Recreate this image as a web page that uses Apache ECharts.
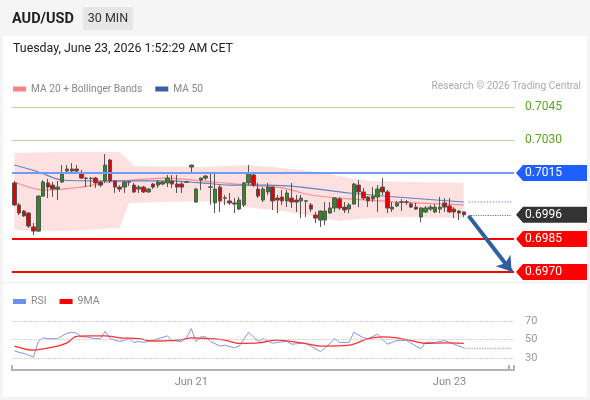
<!DOCTYPE html>
<html><head><meta charset="utf-8">
<script src="https://cdn.jsdelivr.net/npm/echarts@6/dist/echarts.min.js"></script>
<style>html,body{margin:0;padding:0;background:#fff}#c{width:590px;height:400px}</style>
</head><body><div id="c"></div>
<script>
// ---- data ----
const opens = [0.70105,0.70005,0.69977,0.69968,0.69905,0.69886,0.70045,0.70105,0.70095,0.70077,
0.70109,0.70159,0.70168,0.70168,0.70145,0.70127,0.70126,0.70127,0.70109,0.70114,
0.70209,0.70114,0.70086,0.70086,0.70110,0.70095,0.70077,0.70086,0.70064,0.70100,
0.70095,0.70100,0.70105,0.70114,0.70100,0.70100,0.70110,0.70177,0.70018,0.70118,
0.70127,0.70087,0.70014,0.70086,0.70037,0.70023,0.70014,0.69986,0.70005,0.70105,
0.70141,0.70077,0.70027,0.70064,0.70086,0.70036,0.70041,0.70023,0.70036,0.70027,
0.70023,0.70024,0.70005,0.69959,0.69936,0.69936,0.69968,0.69991,0.70032,0.69995,
0.69986,0.70009,0.70095,0.70064,0.70041,0.70032,0.70041,0.70086,0.70064,0.69986,
0.70000,0.70019,0.70019,0.70009,0.69995,0.69950,0.69973,0.69986,0.69973,0.69986,
0.70014,0.70000,0.69986,0.69977,0.69973];
const closes = [0.70005,0.69968,0.69955,0.69909,0.69886,0.70045,0.70109,0.70086,0.70077,0.70086,
0.70150,0.70168,0.70159,0.70159,0.70127,0.70125,0.70125,0.70105,0.70095,0.70186,
0.70114,0.70086,0.70077,0.70109,0.70108,0.70064,0.70086,0.70064,0.70077,0.70086,
0.70109,0.70109,0.70127,0.70100,0.70086,0.70086,0.70108,0.70186,0.70077,0.70127,
0.70136,0.70085,0.70077,0.70023,0.70035,0.70014,0.70009,0.70027,0.70105,0.70150,
0.70095,0.70045,0.70077,0.70086,0.70023,0.70027,0.70023,0.70059,0.70018,0.70018,
0.70036,0.70022,0.69986,0.69945,0.69977,0.69977,0.69991,0.70036,0.69991,0.69982,
0.70005,0.70100,0.70064,0.70036,0.70023,0.70045,0.70077,0.70064,0.69991,0.69995,
0.70014,0.70017,0.70017,0.69995,0.69986,0.69991,0.69991,0.69995,0.69995,0.69995,
0.69995,0.69973,0.69973,0.69968,0.69960];
const lows = [0.70000,0.69959,0.69950,0.69900,0.69868,0.69882,0.70041,0.70036,0.70041,0.70027,
0.70105,0.70150,0.70145,0.70150,0.70123,0.70086,0.70086,0.70082,0.70086,0.70105,
0.70105,0.70059,0.70064,0.70059,0.70091,0.70059,0.70059,0.70059,0.70059,0.70077,
0.70082,0.70095,0.70086,0.70082,0.70059,0.70059,0.70105,0.70150,0.70014,0.70073,
0.70118,0.70005,0.69968,0.69973,0.70005,0.70005,0.69968,0.69982,0.69995,0.70095,
0.70086,0.70036,0.70018,0.70050,0.69982,0.69968,0.70005,0.69995,0.69991,0.69973,
0.69945,0.69950,0.69973,0.69923,0.69905,0.69914,0.69966,0.69973,0.69982,0.69968,
0.69968,0.70005,0.69995,0.70027,0.69995,0.70018,0.69973,0.70050,0.69968,0.69973,
0.69995,0.69977,0.70005,0.69991,0.69982,0.69927,0.69968,0.69977,0.69968,0.69968,
0.69973,0.69968,0.69945,0.69936,0.69950];
const highs = [0.70114,0.70014,0.69982,0.69973,0.69923,0.70050,0.70118,0.70123,0.70109,0.70114,
0.70186,0.70186,0.70195,0.70186,0.70164,0.70132,0.70132,0.70132,0.70114,0.70236,
0.70214,0.70116,0.70095,0.70114,0.70114,0.70105,0.70095,0.70091,0.70082,0.70105,
0.70118,0.70114,0.70141,0.70141,0.70141,0.70109,0.70111,0.70188,0.70082,0.70128,
0.70141,0.70155,0.70155,0.70095,0.70050,0.70059,0.70036,0.70041,0.70109,0.70186,
0.70155,0.70105,0.70086,0.70105,0.70088,0.70050,0.70073,0.70073,0.70105,0.70050,
0.70050,0.70027,0.70014,0.69973,0.69980,0.70018,0.70018,0.70041,0.70041,0.70018,
0.70014,0.70105,0.70118,0.70082,0.70045,0.70086,0.70095,0.70127,0.70073,0.70018,
0.70023,0.70032,0.70027,0.70018,0.70014,0.69995,0.70000,0.70005,0.70009,0.70041,
0.70036,0.70036,0.69995,0.69982,0.69975];

const ma50Idx = [0,5,10,18,32,39,45,53,60,70,80,94];
const ma50Val = [0.70186,0.70155,0.70118,0.70114,0.70114,0.70105,0.70095,0.70095,0.70086,0.70059,0.70041,0.70018];
const ma20Idx = [0,6,14,20,25,32,39,49,56,62,70,80,94];
const ma20Val = [0.70109,0.70073,0.70086,0.70109,0.70118,0.70127,0.70114,0.70095,0.70082,0.70050,0.70032,0.70018,0.70005];
const bbUpIdx = [0,9,22,23,25,39,49,54,60,65,70,74,94];
const bbUpVal = [0.70241,0.70245,0.70245,0.70227,0.70182,0.70177,0.70186,0.70177,0.70164,0.70150,0.70127,0.70114,0.70105];
const bbLoIdx = [0,10,22,24,39,45,50,56,62,68,72,80,94];
const bbLoVal = [0.69891,0.69886,0.69900,0.70014,0.70023,0.70009,0.69991,0.69977,0.69955,0.69932,0.69941,0.69950,0.69945];

const rsiIdx = [0,1,2,4,5,6,7,9,11,12,13,14,15,17,18,19,20,22,23,24,25,26,27,28,30,32,33,35,36,37,38,39,40,41,43,44,46,47,49,51,52,54,55,57,58,60,61,62,64,65,67,68,70,71,73,74,76,78,80,82,83,85,86,88,90,92,94];
const rsiVal = [38,36,35,31,48,52,51,51,57,58,57,53,53,51,51,59,51,48,49,51,47,48,47,48,51,54,49,48,52,62,48,53,53,48,43,44,41,43,58,48,51,46,47,48,45,46,46,43,37,41,51,47,47,58,52,51,56,45,49,49,46,40,47,47,49,45,41];
const ma9Idx = [0,4,6,9,11,13,16,19,22,26,29,33,35,37,41,44,47,51,55,60,64,70,74,77,80,83,86,90,94];
const ma9Val = [43,38.5,40,43,46.5,53.5,54,54,52,51,48.5,49,50,52,51,49.5,46,46.5,49.5,46.5,43,44,51,53,52,49,46,46.5,46];

const levelPrices = [0.7045, 0.7030, 0.7015, 0.6985, 0.6970];
const levelColors = ['#b4d898', '#b4d898', '#6f9cf2', '#ff0000', '#ff0000'];
const levelWidths = [1.2, 1.2, 2, 2, 2];
const lastPrice = 0.6996;
const tagPrices = [0.7045, 0.7030, 0.7015, 0.6996, 0.6985, 0.6970];
const tagTexts = ['0.7045', '0.7030', '0.7015', '0.6996', '0.6985', '0.6970'];
const tagBg = ['', '', '#1f5eff', '#333333', '#ff0000', '#ff0000'];
const rsiLevels = [70, 50, 30];
const arrowFrom = [95, 0.69955];
const arrowTo = [104, 0.69702];
const tickIdx = [37, 91];
const tickText = ['Jun 21', 'Jun 23'];
const nSlots = 105;

// ---- build ----
const cats = Array.from({length: nSlots}, (_, i) => String(i));
const pairs = (ix, v) => ix.map((x, i) => [x, v[i]]);
const FONT = 'Roboto, "Liberation Sans", Arial, sans-serif';

const chart = echarts.init(document.getElementById('c'), null, {renderer: 'canvas'});

const option = {
  animation: false,
  backgroundColor: '#f5f5f5',
  textStyle: {fontFamily: FONT},
  graphic: [
    {type: 'rect', shape: {x: 3, y: 36, width: 584, height: 361}, style: {fill: '#ffffff'}, z: -10},
    {type: 'rect', shape: {x: 83, y: 7, width: 50, height: 23}, style: {fill: '#e6e6e6'}, z: -5},
    {type: 'text', x: 12, y: 19, style: {text: 'AUD/USD', font: 'bold 14.5px ' + FONT, fill: '#222', verticalAlign: 'middle'}},
    {type: 'text', x: 108, y: 19, style: {text: '30 MIN', font: '12.5px ' + FONT, fill: '#333', align: 'center', verticalAlign: 'middle'}},
    {type: 'text', x: 13, y: 49, style: {text: 'Tuesday, June 23, 2026 1:52:29 AM CET', font: '12.4px ' + FONT, fill: '#222', verticalAlign: 'middle'}},
    {type: 'text', x: 581, y: 86, style: {text: 'Research \u00a9 2026 Trading Central', font: '10.2px ' + FONT, fill: '#aaaaaa', align: 'right', verticalAlign: 'middle'}},
    {type: 'line', shape: {x1: 3, y1: 282.5, x2: 587, y2: 282.5}, style: {stroke: '#dddddd', lineWidth: 1, lineDash: [2, 2]}, z: -5}
  ],
  legend: [
    {left: 8, top: 79, padding: 5, icon: 'rect', itemWidth: 13, itemHeight: 5, itemGap: 13, selectedMode: false,
     textStyle: {color: '#888', fontSize: 10.2, fontFamily: FONT},
     data: [{name: 'MA 20 + Bollinger Bands', itemStyle: {color: '#ff8080'}}, {name: 'MA 50', itemStyle: {color: '#3b5fa6'}}]},
    {left: 8, top: 291, padding: 5, icon: 'rect', itemWidth: 13, itemHeight: 5, itemGap: 13, selectedMode: false,
     textStyle: {color: '#888', fontSize: 10.5, fontFamily: FONT},
     data: [{name: 'RSI', itemStyle: {color: '#6d8ff0'}}, {name: '9MA', itemStyle: {color: '#ff0000'}}]}
  ],
  grid: [
    {left: 12, width: 502, top: 96, height: 198},
    {left: 12, width: 502, top: 312, height: 58}
  ],
  xAxis: [
    {type: 'category', data: cats, gridIndex: 0, boundaryGap: true, show: false},
    {type: 'category', data: cats, gridIndex: 1, boundaryGap: true,
     axisLine: {show: true, lineStyle: {color: '#b3b3b3', width: 2}},
     axisTick: {show: true, inside: true, length: 5, lineStyle: {color: '#b3b3b3', width: 2},
       interval: (i) => i === 0 || i === nSlots - 1},
     axisLabel: {color: '#888', fontSize: 11, margin: 7,
       interval: (i) => tickIdx.indexOf(i) >= 0,
       formatter: (v, i) => { const k = tickIdx.indexOf(i); return k >= 0 ? tickText[k] : ''; }},
     splitLine: {show: false}}
  ],
  yAxis: [
    {type: 'value', gridIndex: 0, min: 0.6960, max: 0.7050, show: false, splitLine: {show: false}},
    {type: 'value', gridIndex: 1, min: 17, max: 80, show: false, splitLine: {show: false}}
  ],
  series: [
    {type: 'custom', name: 'band', xAxisIndex: 0, yAxisIndex: 0, silent: true, z: 1,
     data: [[0, 0.70]],
     renderItem: (params, api) => {
       const pts = [];
       for (let i = 0; i < bbUpIdx.length; i++) pts.push(api.coord([bbUpIdx[i], bbUpVal[i]]));
       for (let i = bbLoIdx.length - 1; i >= 0; i--) pts.push(api.coord([bbLoIdx[i], bbLoVal[i]]));
       return {type: 'polygon', shape: {points: pts}, style: {fill: '#fde1e1'}};
     }},
    {type: 'line', name: 'levels', xAxisIndex: 0, yAxisIndex: 0, data: [], z: 3, silent: true,
     markLine: {silent: true, symbol: 'none', precision: 6, label: {show: false}, animation: false,
       data: levelPrices.map((p, i) => ({yAxis: p, lineStyle: {color: levelColors[i], width: levelWidths[i], type: 'solid'}}))}},
    {type: 'line', name: 'MA 20 + Bollinger Bands', xAxisIndex: 0, yAxisIndex: 0, data: pairs(ma20Idx, ma20Val),
     showSymbol: false, smooth: 0.3, lineStyle: {color: '#ff8c8c', width: 1.2}, itemStyle: {color: '#ff8080'}, z: 2},
    {type: 'line', name: 'MA 50', xAxisIndex: 0, yAxisIndex: 0, data: pairs(ma50Idx, ma50Val),
     showSymbol: false, smooth: 0.3, lineStyle: {color: '#6680c0', width: 1.1}, itemStyle: {color: '#3b5fa6'}, z: 2,
     markLine: {silent: true, symbol: 'none', precision: 6, label: {show: false},
       data: [[{coord: [95, ma50Val[ma50Val.length - 1]]}, {coord: [104, ma50Val[ma50Val.length - 1]]}]],
       lineStyle: {color: '#9fb4e6', type: 'dotted', width: 1.5}}},
    {type: 'candlestick', name: 'AUD/USD', xAxisIndex: 0, yAxisIndex: 0, barWidth: 4, z: 4,
     data: opens.map((o, i) => [o, closes[i], lows[i], highs[i]]),
     itemStyle: {color: '#2f8a1f', color0: '#e60000', borderColor: '#555555', borderColor0: '#555555', borderWidth: 1},
     markLine: {silent: true, symbol: 'none', precision: 6, label: {show: false}, z: 5,
       data: [
           [{coord: [95, lastPrice], lineStyle: {color: '#777', width: 1.2, type: 'dotted'}}, {coord: [104, lastPrice]}],
           [{coord: arrowFrom, symbol: 'none', lineStyle: {color: '#2f5f9f', width: 4, type: 'solid'}},
            {coord: arrowTo, symbol: 'arrow', symbolSize: [14, 14]}]
         ]}},
    {type: 'custom', name: 'tags', xAxisIndex: 0, yAxisIndex: 0, silent: true, z: 10, clip: false,
     data: tagPrices.map((p, i) => [0, p, i]),
     renderItem: (params, api) => {
       const i = api.value(2);
       const y = api.coord([0, api.value(1)])[1];
       const x0 = params.coordSys.x + params.coordSys.width + 2;
       if (!tagBg[i]) {
         return {type: 'text', style: {x: x0 + 9, y: y, text: tagTexts[i], fill: '#5aa51e', font: '12px ' + FONT, verticalAlign: 'middle'}};
       }
       return {type: 'group', children: [
         {type: 'polygon', shape: {points: [[x0, y], [x0 + 7, y - 8], [x0 + 71, y - 8], [x0 + 71, y + 8], [x0 + 7, y + 8]]}, style: {fill: tagBg[i]}},
         {type: 'text', style: {x: x0 + 9, y: y, text: tagTexts[i], fill: '#ffffff', font: '12px ' + FONT, verticalAlign: 'middle'}}
       ]};
     }},
    {type: 'line', name: 'RSI', xAxisIndex: 1, yAxisIndex: 1, data: pairs(rsiIdx, rsiVal),
     showSymbol: false, lineStyle: {color: '#7b97ee', width: 1}, itemStyle: {color: '#6d8ff0'}, z: 3,
     markLine: {silent: true, symbol: 'none',
       data: [[{coord: [94, rsiVal[rsiVal.length - 1]], lineStyle: {color: '#9fb4ee', type: 'dotted', width: 1.3}, label: {show: false}},
               {coord: [104, rsiVal[rsiVal.length - 1]]}]]}},
    {type: 'line', name: 'rsiLevels', xAxisIndex: 1, yAxisIndex: 1, data: [], silent: true, z: 2,
     markLine: {silent: true, symbol: 'none',
       data: rsiLevels.map(v => ({yAxis: v, lineStyle: {color: '#c4c4c4', type: 'dotted', width: 1.2},
           label: {show: true, position: 'end', distance: 11, formatter: String(v), color: '#999', fontSize: 11, fontFamily: FONT}}))}},
    {type: 'line', name: '9MA', xAxisIndex: 1, yAxisIndex: 1, data: pairs(ma9Idx, ma9Val),
     showSymbol: false, smooth: 0.3, lineStyle: {color: '#ff3030', width: 1.3}, itemStyle: {color: '#ff0000'}, z: 4}
  ]
};
chart.setOption(option);
</script>
</body></html>
